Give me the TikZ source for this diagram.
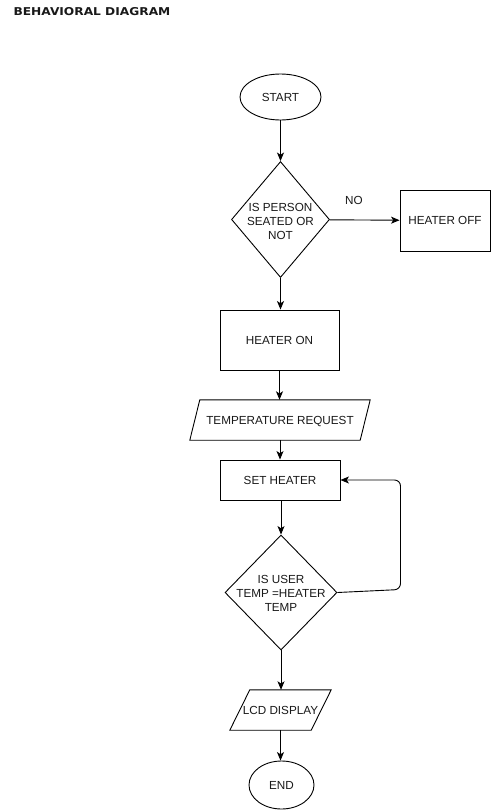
\documentclass[tikz,border=0pt]{standalone}
\usepackage{fontspec}
\setmainfont{Liberation Sans}
\newfontfamily\titlefont[FakeStretch=1.13]{DejaVu Sans}
\usetikzlibrary{shapes.geometric,arrows.meta}
\begin{document}
\begin{tikzpicture}[x=1pt,y=-1pt,
  every node/.style={font=\fontsize{11.7}{14}\selectfont, text=black!90},
  shp/.style={draw, line width=0.9pt, inner sep=0pt, align=center},
  box/.style={shp, rectangle},
  oval/.style={shp, ellipse},
  dia/.style={shp, diamond},
  plain/.style={inner sep=0pt, align=center},
  arr/.style={line width=0.9pt, -{Stealth[length=8.5pt,width=7pt,inset=2.2pt]}},
  ln/.style={line width=0.9pt}
]
\useasboundingbox (0,0) rectangle (491,811);

\node[anchor=base west, font=\titlefont\bfseries\fontsize{10.8}{12}\selectfont, text=black!90] (title) at (10,15) {BEHAVIORAL DIAGRAM};

\node[oval, minimum width=81pt, minimum height=46pt] (start) at (280.5,97) {START};

\node[dia, minimum width=98pt, minimum height=116pt] (d1) at (280.5,219.5) {};
\node[plain] (d1t) at (280.5,221) {IS PERSON\\SEATED OR\\NOT};

\node[box, minimum width=90pt, minimum height=61pt] (off) at (445,220.5) {HEATER OFF};
\node[plain] (no) at (354,200) {NO};

\node[box, minimum width=119pt, minimum height=60pt] (on) at (279.5,340) {HEATER ON};

\node[plain, minimum width=170pt, minimum height=40pt, text depth=0pt] (treq) at (280,420) {TEMPERATURE REQUEST};
\draw[ln] ([xshift=5pt]treq.north west) -- ([xshift=5pt]treq.north east) -- ([xshift=-5pt]treq.south east) -- ([xshift=-5pt]treq.south west) -- cycle;

\node[box, minimum width=120pt, minimum height=40pt] (set) at (280,480) {SET HEATER};

\node[dia, minimum width=112pt, minimum height=115pt] (d2) at (281,592.5) {};
\node[plain] (d2t) at (281,593.5) {IS USER\\TEMP =HEATER\\TEMP};

\node[plain, minimum width=81pt, minimum height=40pt] (lcd) at (280.5,710) {LCD DISPLAY};
\draw[ln] ([xshift=10pt]lcd.north west) -- ([xshift=10pt]lcd.north east) -- ([xshift=-10pt]lcd.south east) -- ([xshift=-10pt]lcd.south west) -- cycle;

\node[oval, minimum width=65pt, minimum height=48pt] (end) at (281.5,785) {END};

\coordinate (c1) at (400.5,589.5);
\coordinate (c2) at (400.5,480);

\draw[arr] (start) -- (d1);
\draw[arr] (d1) -- (off);
\draw[arr] (d1.south) -- (d1.south |- on.north);
\draw[arr] (on.south) -- (on.south |- treq.north);
\draw[arr] (treq.south) -- (treq.south |- set.north);
\draw[arr] (set.south) -- (set.south -| d2.north) -- (d2.north);
\draw[arr, rounded corners=6pt] (d2.east) -- (c1) -- (c2) -- (set.east);
\draw[arr] (d2.south) -- (d2.south |- lcd.north);
\draw[arr] (lcd.south) -- (lcd.south |- end.north);
\end{tikzpicture}
\end{document}
